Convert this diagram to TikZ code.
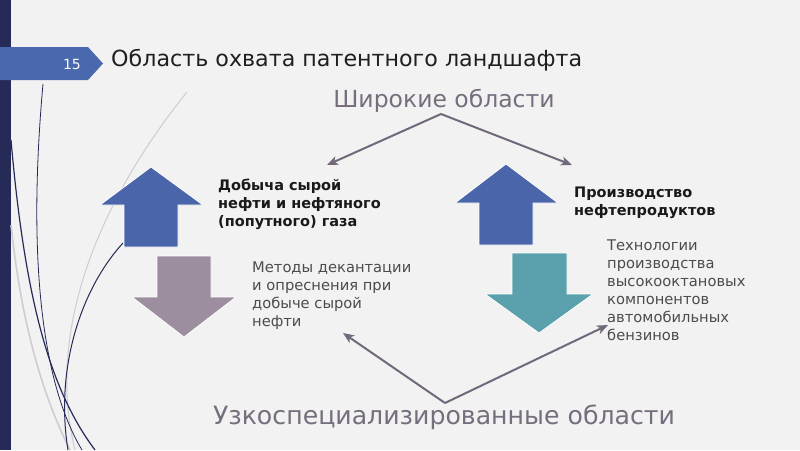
\documentclass[tikz,border=0pt]{standalone}
\usepackage{fontspec}
\setmainfont{DejaVu Sans}
\usepackage{tikz}
\usetikzlibrary{arrows.meta}

\definecolor{slidebg}{HTML}{F2F2F2}
\definecolor{barnavy}{HTML}{262A56}
\definecolor{tabblue}{HTML}{4A68AD}
\definecolor{upblue}{HTML}{4A65AA}
\definecolor{downmauve}{HTML}{9C8D9F}
\definecolor{downteal}{HTML}{5BA1AD}
\definecolor{linkgray}{HTML}{716879}
\definecolor{areagray}{HTML}{766E7D}
\definecolor{swirlgray}{HTML}{CDCDD3}

\begin{document}
\begin{tikzpicture}[x=1pt, y=-1pt,
		link/.style={linkgray, line width=2pt, -{Stealth[length=11pt, width=9pt, inset=3pt]}},
		blockarrow/.style={draw=white, line width=0.8pt, line join=miter},
		area/.style={areagray, anchor=center, inner sep=0pt},
		headtext/.style={font=\bfseries\fontsize{14.5}{18}\selectfont, text=black!90, align=left, anchor=north west, inner sep=0pt},
		subtext/.style={font=\fontsize{14.7}{17.9}\selectfont, text=black!70, align=left, anchor=north west, inner sep=0pt}]
					\fill[slidebg] (0, 0) rectangle (800, 450);
					\useasboundingbox (0, 0) rectangle (800, 450);
					
					\fill[barnavy] (0, 0) rectangle (11, 450);
					
					\draw[swirlgray, line width=1pt] (187, 92) .. controls (100, 200) and (45, 330) .. (75, 450);
					\draw[swirlgray, line width=1.6pt] (11, 225) .. controls (22, 330) and (45, 400) .. (70, 450);
					\draw[barnavy, line width=0.8pt] (43, 84) .. controls (28, 250) and (40, 380) .. (82, 450);
					\draw[barnavy, line width=1.2pt] (11, 140) .. controls (25, 300) and (50, 390) .. (95, 450);
					\draw[barnavy, line width=1pt] (123, 243) .. controls (80, 290) and (55, 370) .. (68, 450);
					
					\fill[tabblue] (0, 47) -- (88, 47) -- (103, 63.5) -- (88, 80) -- (0, 80) -- cycle;
					\node[white, font=\fontsize{14}{16}\selectfont] (num) at (72, 64) {15};
					\node[anchor=west, inner sep=0pt, text=black!88, font=\fontsize{22.2}{26}\selectfont] (title) at (111, 60) {Область охвата патентного ландшафта};
					
					\node[area, font=\fontsize{23.5}{26}\selectfont] (wide) at (444, 101) {Широкие области};
					\node[area, font=\fontsize{25.2}{28}\selectfont] (narrow) at (444, 417) {Узкоспециализированные области};
					
					\filldraw[upblue, blockarrow] (151, 167) -- (203, 205) -- (178, 205) -- (178, 247) -- (124, 247) -- (124, 205) -- (100, 205) -- cycle;
					\filldraw[downmauve, blockarrow] (157, 256) -- (211, 256) -- (211, 297) -- (236, 297) -- (184, 337) -- (132, 297) -- (157, 297) -- cycle;
					\filldraw[upblue, blockarrow] (506, 164) -- (558, 203) -- (533, 203) -- (533, 245) -- (479, 245) -- (479, 203) -- (455, 203) -- cycle;
					\filldraw[downteal, blockarrow] (512, 253) -- (567, 253) -- (567, 294) -- (593, 294) -- (539, 333) -- (485, 294) -- (512, 294) -- cycle;
					
					\node[headtext] (extract) at (218, 179) {Добыча сырой\\нефти и нефтяного\\(попутного) газа};
					\node[subtext] (extractsub) at (252, 262) {Методы декантации\\и опреснения при\\добыче сырой\\нефти};
					\node[headtext] (refine) at (574, 187) {Производство\\нефтепродуктов};
					\node[subtext] (refinesub) at (607, 240) {Технологии\\производства\\высокооктановых\\компонентов\\автомобильных\\бензинов};
					
					\coordinate (wideV) at (441, 114);
					\coordinate (wideL) at (327, 165);
					\coordinate (wideR) at (572, 165);
					\coordinate (narrowV) at (445, 403);
					\coordinate (narrowL) at (343, 333);
					\coordinate (narrowR) at (608, 325);
					
					\draw[link] (wideV) -- (wideL);
					\draw[link] (wideV) -- (wideR);
					\draw[link] (narrowV) -- (narrowL);
					\draw[link] (narrowV) -- (narrowR);
				\end{tikzpicture}
\end{document}
